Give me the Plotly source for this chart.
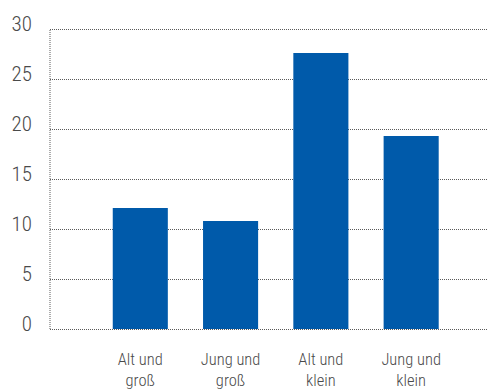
import plotly.graph_objects as go

categories = ["Alt und<br>groß", "Jung und<br>groß", "Alt und<br>klein", "Jung und<br>klein"]
values = [12.1, 10.8, 27.6, 19.3]
y_ticks = [0, 5, 10, 15, 20, 25, 30]

FONT = "Roboto Condensed, Liberation Sans Narrow, Lato, sans-serif"
TEXT = "#4a4a4a"
GRID = "#5a5a5a"

fig = go.Figure(go.Bar(
    x=categories, y=values,
    marker=dict(color="#005AAA", line=dict(width=0)),
    width=0.61,
))

fig.update_layout(
    width=487, height=391,
    margin=dict(l=50, r=0, t=24, b=57, autoexpand=False),
    paper_bgcolor="white", plot_bgcolor="white",
    showlegend=False,
    font=dict(family=FONT, color=TEXT, weight=300),
)
fig.update_xaxes(
    range=[-1.0, 3.84], automargin=False,
    showgrid=False, zeroline=False, showline=False,
    tickfont=dict(size=16.5, family=FONT, color=TEXT, weight=300),
    ticks="", ticklabelstandoff=13,
)
fig.update_yaxes(
    range=[-0.5, 30.5], automargin=False,
    tickvals=y_ticks,
    showgrid=True, gridcolor=GRID, griddash="1px,1px", gridwidth=1,
    zeroline=False, showline=False,
    tickfont=dict(size=21, family=FONT, color=TEXT, weight=300),
    ticks="", ticklabelstandoff=17, ticklabelshift=-5,
)
fig.add_shape(type="line", xref="paper", yref="y", x0=0, x1=0, y0=0, y1=30,
              line=dict(color=GRID, width=1, dash="1px,1px"), layer="below")

fig.write_html("out.html")
